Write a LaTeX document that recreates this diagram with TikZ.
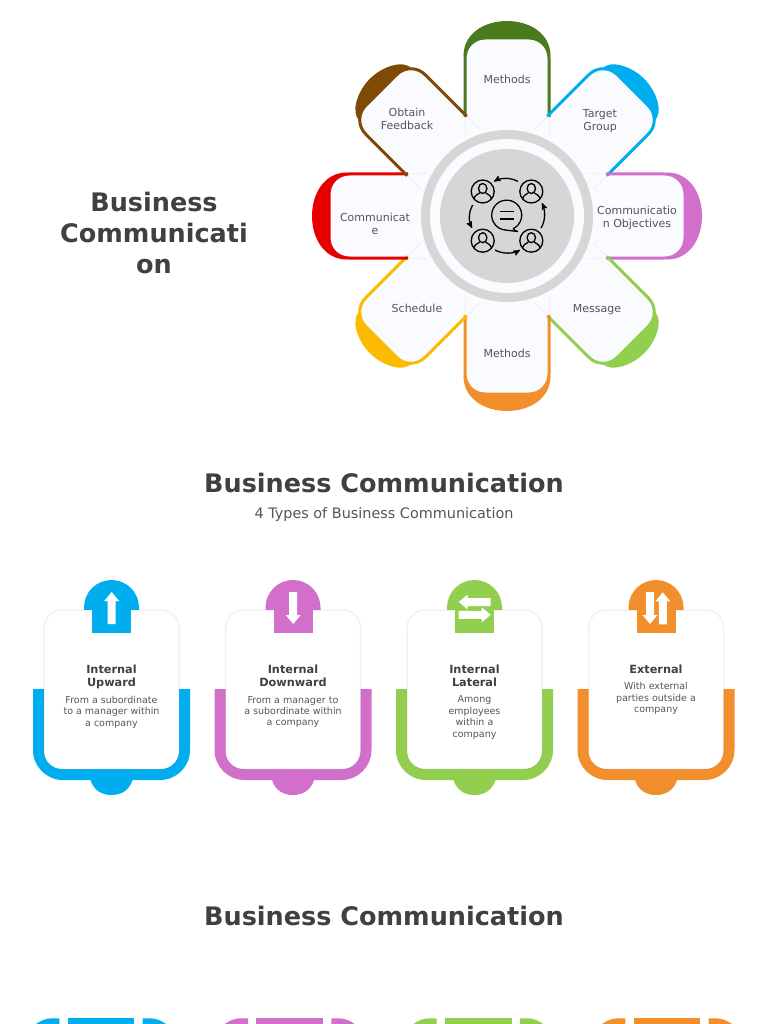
\documentclass[tikz,border=0pt]{standalone}
\usepackage{fontspec}
\setmainfont{DejaVu Sans}
\usetikzlibrary{arrows}

\definecolor{petalbg}{HTML}{FAFBFF}
\definecolor{ringgray}{HTML}{D6D6D6}
\definecolor{darktext}{HTML}{404040}
\definecolor{softtext}{HTML}{555555}
\definecolor{leaf}{HTML}{4B7A1D}
\definecolor{sky}{HTML}{00AEEF}
\definecolor{orchid}{HTML}{D16FCB}
\definecolor{lime}{HTML}{92CF4E}
\definecolor{tangerine}{HTML}{F28E2B}
\definecolor{amber}{HTML}{FDBB00}
\definecolor{signal}{HTML}{E60000}
\definecolor{walnut}{HTML}{7F4A06}

\tikzset{
  petal text/.style={font=\fontsize{11}{13}\selectfont,text=softtext,align=center,inner sep=0pt},
  big title/.style={font=\fontsize{25.5}{31}\selectfont\bfseries,text=darktext,align=center,inner sep=0pt},
  card head/.style={font=\fontsize{11.3}{13}\selectfont\bfseries,text=darktext,align=center,inner sep=0pt},
  card body/.style={font=\fontsize{9.5}{11.4}\selectfont,text=softtext,align=center,inner sep=0pt},
  % white block arrow pointing up, drawn round its middle
  block arrow/.pic={\fill[white] (-4,16) -- (-4,-7) -- (-7.5,-7) -- (0,-16) -- (7.5,-7) -- (4,-7) -- (4,16) -- cycle;},
  person/.pic={
    \draw[line width=1.3,black] (0,0) circle (11.5);
    \draw[line width=1.3,black] (0,-3) ellipse (4.2 and 5);
    \draw[line width=1.3,black] (-8.8,7.5) .. controls (-8,3.5) and (-5,3) .. (-3,1.5);
    \draw[line width=1.3,black] (8.8,7.5) .. controls (8,3.5) and (5,3) .. (3,1.5);
  }
}

\begin{document}
\begin{tikzpicture}[x=1pt,y=-1pt,>=stealth']
  \useasboundingbox (0,0) rectangle (768,1024);

  % blobs behind the petals
  \foreach \ang/\col in {0/leaf,90/orchid,180/tangerine,270/signal}
    \fill[\col,shift={(507,216)},rotate=-\ang]
      (-43.5,-160) .. controls (-43.5,-183) and (-22,-195) .. (0,-195)
      .. controls (22,-195) and (43.5,-183) .. (43.5,-160) -- cycle;
  \foreach \ang/\col in {45/sky,135/lime,225/amber,315/walnut}
    \fill[\col,shift={(507,216)},rotate=-\ang]
      (-37,-172) .. controls (-37,-184) and (-18,-194) .. (0,-194)
      .. controls (18,-194) and (37,-184) .. (37,-172) -- cycle;

  % white part of the petals
  \foreach \ang in {0,45,...,315}
    \fill[petalbg,shift={(507,216)},rotate=-\ang,rounded corners=20]
      (-42,-60) -- (-42,-178) -- (42,-178) -- (42,-60) -- cycle;

  % coloured outlines start where two petals meet
  \foreach \ang/\col in {0/leaf,45/sky,90/orchid,135/lime,180/tangerine,225/amber,270/signal,315/walnut} {
    \draw[black,draw opacity=.04,line width=1,shift={(507,216)},rotate=-\ang]
      (-42,-99) -- (-42,-80) (42,-99) -- (42,-80);
    \draw[\col,line width=3,shift={(507,216)},rotate=-\ang,rounded corners=20]
      (-42,-99) -- (-42,-178) -- (42,-178) -- (42,-99);
  }

  % hub
  \node[circle,fill=ringgray,minimum size=172,inner sep=0pt] (ring) at (507,216) {};
  \node[circle,fill=petalbg,minimum size=154,inner sep=0pt] (gap) at (507,216) {};
  \node[circle,fill=ringgray,minimum size=134,inner sep=0pt] (hub) at (507,216) {};

  % icon in the hub
  \pic at (482.7,191.5) {person};
  \pic at (531.3,191.5) {person};
  \pic at (482.7,240.7) {person};
  \pic at (531.3,240.7) {person};
  \draw[line width=1.3,black] (518,231.5) .. controls (515,231) .. (513.5,228.5)
    arc[start angle=63,end angle=-267,radius=15] -- cycle;
  \draw[line width=1.3,black] (499.5,211.7) -- (514,211.7) (499.5,219) -- (514,219);
  \draw[->,line width=1.3,black] (518,181.5) .. controls (511,177.5) and (501,177.5) .. (494,181.5);
  \draw[->,line width=1.3,black] (541,228) .. controls (545.5,221) and (545.5,211) .. (542,203);
  \draw[->,line width=1.3,black] (495,250) .. controls (502,254) and (513,254) .. (520,250);
  \draw[->,line width=1.3,black] (472.7,205) .. controls (468.5,212) and (468.5,221) .. (472,228);

  % petal labels
  \node[petal text] (methodstop) at (507,79) {Methods};
  \node[petal text] (target) at (600,121.5) {Target\\Group};
  \node[petal text] (objectives) at (637,217.5) {Communicatio\\n Objectives};
  \node[petal text] (message) at (597,309.5) {Message};
  \node[petal text] (methodsbot) at (507,353) {Methods};
  \node[petal text] (schedule) at (417,308) {Schedule};
  \node[petal text] (communicate) at (375,223.5) {Communicat\\e};
  \node[petal text] (feedback) at (407,118.5) {Obtain\\Feedback};

  % titles
  \node[big title] (sidetitle) at (154,233) {Business\\Communicati\\on};
  \node[big title] (titleone) at (384,483) {Business Communication};
  \node[font=\fontsize{14.4}{17}\selectfont,text=softtext,inner sep=0pt] (subtitle) at (384,515) {4 Types of Business Communication};
  \node[big title] (titletwo) at (384,916) {Business Communication};

  % cards
  \foreach \cx/\col/\nm in {111.5/sky/a,293/orchid/b,474.5/lime/c,656/tangerine/d} {
    \fill[\col] (\cx-21,780) .. controls (\cx-18,790) and (\cx-10,795) .. (\cx,795)
      .. controls (\cx+10,795) and (\cx+18,790) .. (\cx+21,780) -- cycle;
    \fill[\col] (\cx-78.5,689) -- (\cx-78.5,750) arc[start angle=180,end angle=90,radius=30]
      -- (\cx+48.5,780) arc[start angle=90,end angle=0,radius=30] -- (\cx+78.5,689) -- cycle;
    \fill[\col] (\cx-27.5,610) -- (\cx-27.5,607.5) arc[start angle=180,end angle=360,radius=27.5] -- (\cx+27.5,610) -- cycle;
    \node[draw=black,draw opacity=.05,line width=1.5,fill=white,rounded corners=18,minimum width=135,minimum height=159,inner sep=0pt] (card\nm) at (\cx,689.5) {};
    \fill[\col] (\cx-19.5,605) rectangle (\cx+19.5,633);
  }

  % arrows on the cards
  \pic at (111.7,608) {block arrow};
  \pic[rotate=180] at (293.2,608) {block arrow};
  \pic[rotate=90] at (474.7,602) {block arrow};
  \pic[rotate=-90] at (474.7,614.8) {block arrow};
  \pic[rotate=180] at (650,608) {block arrow};
  \pic at (662.8,608.3) {block arrow};

  % card texts
  \node[card head] (heada) at (111.5,676.5) {Internal\\Upward};
  \node[card body] (bodya) at (111.5,712) {From a subordinate\\to a manager within\\a company};
  \node[card head] (headb) at (293,675.5) {Internal\\Downward};
  \node[card body] (bodyb) at (293,712) {From a manager to\\a subordinate within\\a company};
  \node[card head] (headc) at (474.5,675.5) {Internal\\Lateral};
  \node[card body] (bodyc) at (474.5,717.5) {Among\\employees\\within a\\company};
  \node[card head] (headd) at (656,669) {External};
  \node[card body] (bodyd) at (656,698.5) {With external\\parties outside a\\company};

  % start of the next row, cut off by the page
  \foreach \cx/\col in {101/sky,289.7/orchid,478.3/lime,667/tangerine} {
    \fill[\col] (\cx-33.3,1018.3) rectangle (\cx+33.3,1024);
    \fill[\col] (\cx-65,1024) .. controls (\cx-60,1020.5) and (\cx-55,1018.3) .. (\cx-49,1018.3)
      -- (\cx-41.7,1018.3) -- (\cx-41.7,1024) -- cycle;
    \fill[\col] (\cx+65,1024) .. controls (\cx+60,1020.5) and (\cx+55,1018.3) .. (\cx+49,1018.3)
      -- (\cx+41.7,1018.3) -- (\cx+41.7,1024) -- cycle;
  }
\end{tikzpicture}
\end{document}
